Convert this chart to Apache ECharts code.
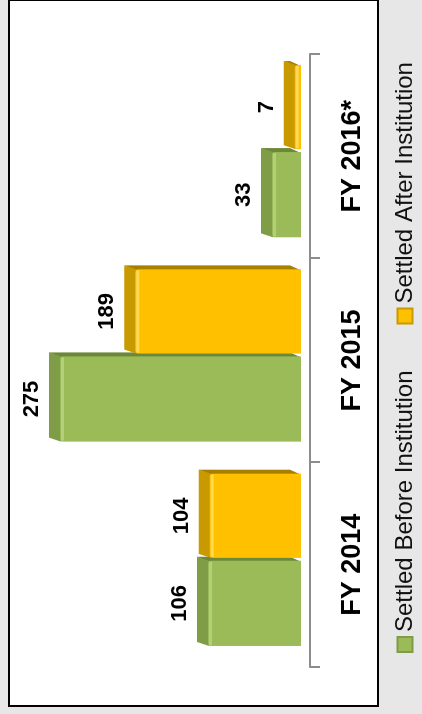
<!DOCTYPE html>
<html>
<head>
<meta charset="utf-8">
<script src="https://cdn.jsdelivr.net/npm/echarts@6/dist/echarts.min.js"></script>
<style>
html, body { margin: 0; padding: 0; width: 422px; height: 714px; overflow: hidden; background: #e7e7e7; }
#frame { position: absolute; left: 8px; top: -1px; width: 371px; height: 708px; box-sizing: border-box; border: 2px solid #000; background: #fff; }
/* chart is drawn upright (714 x 422) and turned a quarter turn to the left */
#chart { position: absolute; left: 0; top: 0; width: 714px; height: 422px; transform-origin: 0 0; transform: translate(0, 714px) rotate(-90deg); }
</style>
</head>
<body>
<div id="frame"></div>
<div id="chart"></div>
<script>
var years = ['FY 2014', 'FY 2015', 'FY 2016*'];
var settled_before = [106, 275, 33];
var settled_after = [104, 189, 7];
var names = ['Settled Before Institution', 'Settled After Institution'];

var green = { front: '#9bbb59', top: '#7f9c46', right: '#6c8838', light: '#b4cf7c' };
var yellow = { front: '#ffc000', top: '#c99a00', right: '#a88000', light: '#ffd955' };

function to_points(values) {
    var pts = [];
    for (var i = 0; i < values.length; i++) {
        pts.push([i, values[i]]);
    }
    return pts;
}

// 3d-ish column: front face + top face + right face, label above
function make_render(lo, hi, c) {
    return function (params, api) {
        var cat = api.value(0), val = api.value(1);
        var base = api.coord([cat, 0]);
        var top = api.coord([cat, val]);
        var band = api.size([1, 0])[0];
        var x0 = base[0] + band * lo, x1 = base[0] + band * hi;
        var yb = base[1], yt = top[1];
        var dx = 4, dy = 11;
        return {
            type: 'group',
            children: [{
                type: 'polygon',
                shape: { points: [[x1 - 1, yt], [x1 + dx, yt - dy], [x1 + dx, yb - dy], [x1 - 1, yb]] },
                style: { fill: c.right }
            }, {
                type: 'polygon',
                shape: { points: [[x0, yt + 1], [x0 + dx, yt - dy], [x1 + dx, yt - dy], [x1, yt + 1]] },
                style: { fill: c.top }
            }, {
                type: 'rect',
                shape: { x: x0, y: yt, width: x1 - x0, height: yb - yt, r: [3, 3, 0, 0] },
                style: { fill: c.front }
            }, {
                type: 'rect',
                shape: { x: x0 + 1, y: yt + 1, width: x1 - x0 - 2, height: Math.min(3, yb - yt - 1) },
                style: { fill: c.light }
            }, {
                type: 'text',
                x: (x0 + x1) / 2,
                y: yt - 28,
                style: {
                    text: String(val),
                    fill: '#000',
                    font: 'bold 22px "Liberation Sans", Arial, sans-serif',
                    align: 'center',
                    verticalAlign: 'middle',
                    textAlign: 'center',
                    textVerticalAlign: 'middle'
                }
            }]
        };
    };
}

var chart = echarts.init(document.getElementById('chart'));

option = {
    animation: false,
    legend: {
        data: [{ name: names[0], icon: 'rect' }, { name: names[1], icon: 'rect' }],
        left: 61,
        top: 393,
        padding: 0,
        itemWidth: 15,
        itemHeight: 15,
        itemGap: 46,
        selectedMode: false,
        textStyle: {
            fontFamily: '"Liberation Sans", Arial, sans-serif',
            fontSize: 24,
            color: '#111'
        }
    },
    grid: {
        left: 47,
        right: 54,
        top: 38,
        bottom: 121
    },
    xAxis: {
        type: 'category',
        data: years,
        offset: 9,
        axisLine: { show: true, onZero: false, lineStyle: { color: '#8c8c8c', width: 2 } },
        axisTick: { show: true, inside: false, alignWithLabel: false, interval: 0, length: 10, lineStyle: { color: '#8c8c8c', width: 2 } },
        axisLabel: {
            margin: 29,
            color: '#000',
            fontWeight: 'bold',
            fontSize: 27,
            fontFamily: '"Liberation Sans", Arial, sans-serif'
        }
    },
    yAxis: {
        type: 'value',
        min: 0,
        max: 300,
        show: false,
        splitLine: { show: false }
    },
    series: [{
        name: names[0],
        type: 'custom',
        renderItem: make_render(-0.397, 0.020, green),
        itemStyle: { color: green.front, borderColor: green.top, borderWidth: 1 },
        encode: { x: 0, y: 1 },
        data: to_points(settled_before)
    }, {
        name: names[1],
        type: 'custom',
        renderItem: make_render(0.034, 0.446, yellow),
        itemStyle: { color: yellow.front, borderColor: yellow.top, borderWidth: 1 },
        encode: { x: 0, y: 1 },
        data: to_points(settled_after)
    }]
};

chart.setOption(option);
</script>
</body>
</html>
